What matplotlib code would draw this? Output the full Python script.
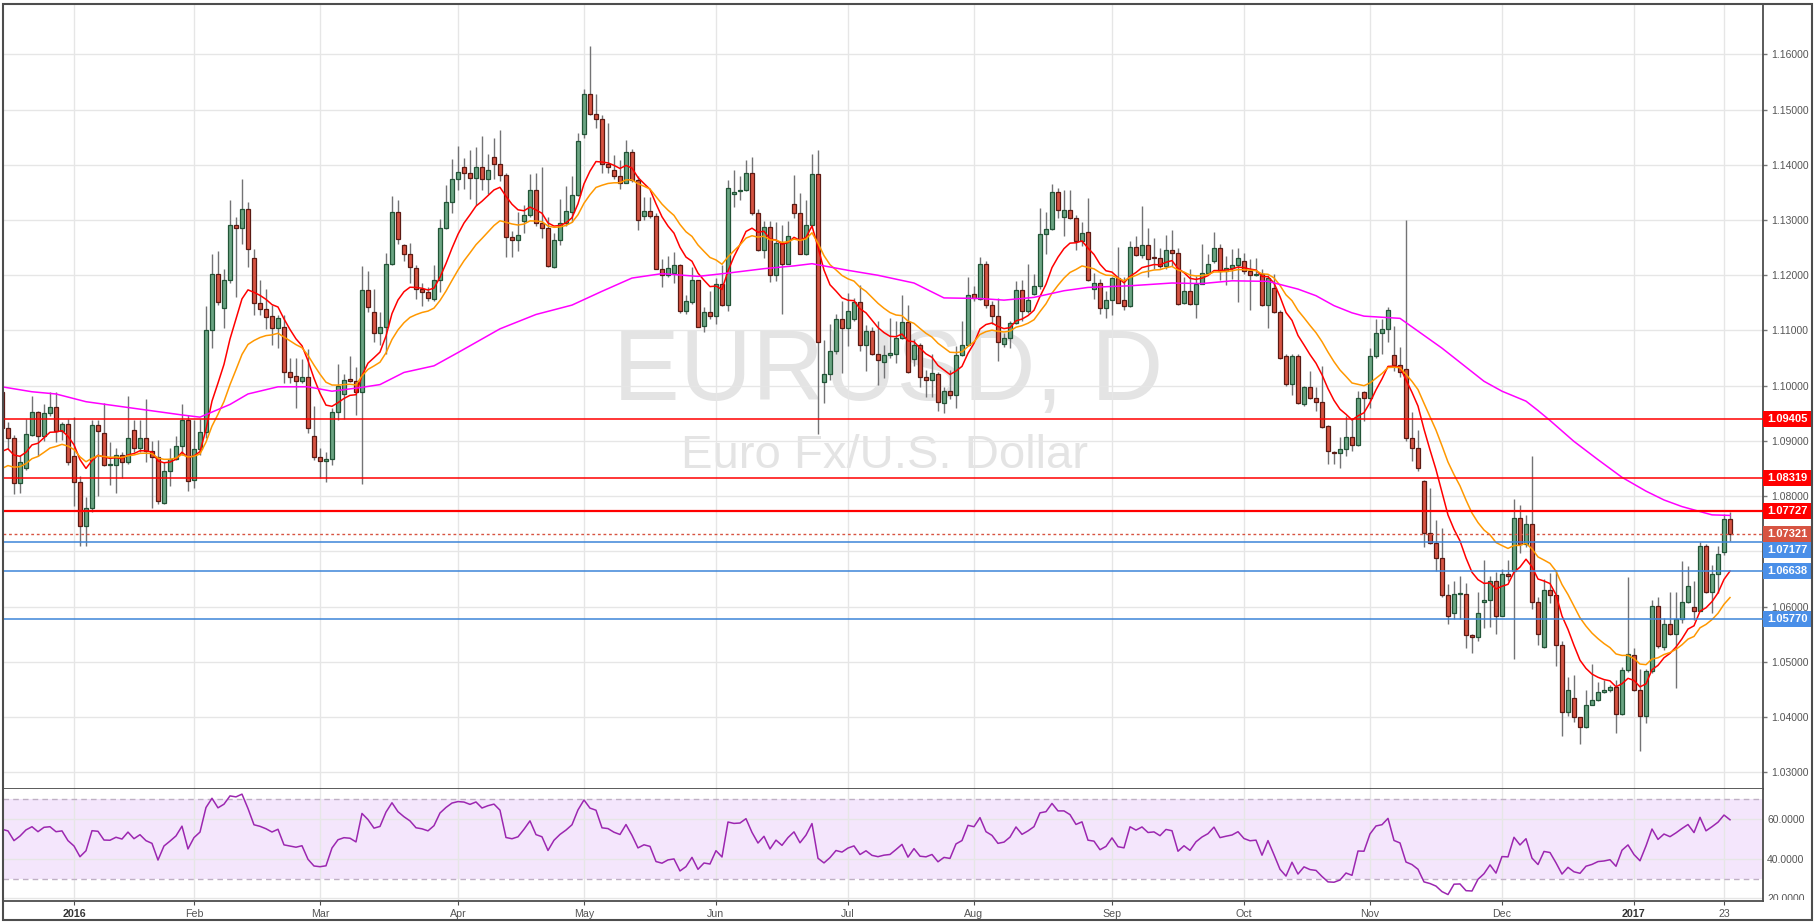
import numpy as np
import pandas as pd
import matplotlib
matplotlib.use("Agg")
import matplotlib.pyplot as plt
from matplotlib.patches import Rectangle
from matplotlib.ticker import FuncFormatter
import matplotlib.transforms as mtransforms

plt.rcParams['font.family'] = ['Liberation Sans', 'DejaVu Sans']

# EURUSD daily, 16 Dec 2015 .. 24 Jan 2017
opens = [
    1.0989, 1.0923, 1.0906, 1.0824, 1.0851, 1.0911, 1.0953, 1.0909, 1.0950, 1.0961,
    1.0918, 1.0930, 1.0872, 1.0825, 1.0745, 1.0778, 1.0928, 1.0914, 1.0857, 1.0856,
    1.0874, 1.0861, 1.0919, 1.0888, 1.0905, 1.0881, 1.0870, 1.0788, 1.0846, 1.0867,
    1.0890, 1.0937, 1.0830, 1.0885, 1.0916, 1.1101, 1.1203, 1.1141, 1.1191, 1.1291,
    1.1286, 1.1320, 1.1231, 1.1149, 1.1139, 1.1126, 1.1104, 1.1107, 1.1024, 1.1018,
    1.1008, 1.1016, 1.0909, 1.0870, 1.0864, 1.0868, 1.0953, 1.0985, 1.1012, 1.1008,
    1.0989, 1.1174, 1.1134, 1.1095, 1.1107, 1.1220, 1.1314, 1.1254, 1.1238, 1.1214,
    1.1176, 1.1170, 1.1157, 1.1192, 1.1285, 1.1333, 1.1374, 1.1397, 1.1385, 1.1377,
    1.1396, 1.1374, 1.1414, 1.1401, 1.1381, 1.1270, 1.1264, 1.1299, 1.1309, 1.1354,
    1.1294, 1.1285, 1.1215, 1.1264, 1.1294, 1.1315, 1.1346, 1.1456, 1.1528, 1.1493,
    1.1484, 1.1401, 1.1390, 1.1379, 1.1368, 1.1424, 1.1372, 1.1307, 1.1317, 1.1308,
    1.1212, 1.1200, 1.1205, 1.1218, 1.1136, 1.1152, 1.1191, 1.1109, 1.1134, 1.1127,
    1.1185, 1.1146, 1.1348, 1.1352, 1.1354, 1.1386, 1.1312, 1.1245, 1.1288, 1.1201,
    1.1258, 1.1221, 1.1330, 1.1312, 1.1239, 1.1292, 1.1383, 1.1007, 1.1022, 1.1063,
    1.1120, 1.1104, 1.1121, 1.1151, 1.1073, 1.1099, 1.1058, 1.1043, 1.1055, 1.1058,
    1.1086, 1.1115, 1.1048, 1.1073, 1.1016, 1.1011, 1.1022, 1.0968, 1.0991, 1.0984,
    1.1055, 1.1073, 1.1166, 1.1157, 1.1220, 1.1147, 1.1126, 1.1075, 1.1086, 1.1113,
    1.1173, 1.1135, 1.1166, 1.1180, 1.1274, 1.1283, 1.1350, 1.1306, 1.1318, 1.1303,
    1.1262, 1.1278, 1.1175, 1.1186, 1.1140, 1.1155, 1.1195, 1.1155, 1.1144, 1.1252,
    1.1236, 1.1254, 1.1233, 1.1232, 1.1216, 1.1245, 1.1240, 1.1149, 1.1171, 1.1148,
    1.1184, 1.1205, 1.1225, 1.1250, 1.1208, 1.1214, 1.1219, 1.1226, 1.1208, 1.1200,
    1.1202, 1.1146, 1.1177, 1.1134, 1.1054, 1.1003, 1.1054, 1.0966, 1.0997, 1.0977,
    1.0971, 1.0927, 1.0880, 1.0878, 1.0885, 1.0907, 1.0892, 1.0989, 1.0977, 1.1053,
    1.1095, 1.1102, 1.1055, 1.1037, 1.1030, 1.0906, 1.0888, 1.0828, 1.0733, 1.0715,
    1.0687, 1.0621, 1.0589, 1.0623, 1.0623, 1.0549, 1.0545, 1.0609, 1.0611, 1.0647,
    1.0583, 1.0658, 1.0664, 1.0761, 1.0713, 1.0750, 1.0609, 1.0527, 1.0630, 1.0621,
    1.0531, 1.0409, 1.0435, 1.0399, 1.0382, 1.0421, 1.0431, 1.0445, 1.0449, 1.0455,
    1.0406, 1.0485, 1.0513, 1.0449, 1.0402, 1.0484, 1.0601, 1.0527, 1.0569, 1.0551,
    1.0578, 1.0609, 1.0599, 1.0592, 1.0710, 1.0626, 1.0659, 1.0699, 1.0759,
]
highs = [
    1.1005, 1.0934, 1.0910, 1.0875, 1.0940, 1.0982, 1.0955, 1.0966, 1.0989, 1.0989,
    1.0935, 1.0940, 1.0943, 1.0837, 1.0798, 1.0937, 1.0937, 1.0968, 1.0898, 1.0888,
    1.0880, 1.0982, 1.0937, 1.0937, 1.0975, 1.0899, 1.0901, 1.0862, 1.0888, 1.0908,
    1.0966, 1.0947, 1.0937, 1.0940, 1.1144, 1.1238, 1.1244, 1.1212, 1.1336, 1.1306,
    1.1375, 1.1333, 1.1247, 1.1192, 1.1176, 1.1147, 1.1128, 1.1128, 1.1050, 1.1050,
    1.1049, 1.1066, 1.0963, 1.0888, 1.0880, 1.0959, 1.1040, 1.1021, 1.1053, 1.1034,
    1.1217, 1.1207, 1.1176, 1.1134, 1.1241, 1.1343, 1.1336, 1.1257, 1.1258, 1.1218,
    1.1186, 1.1179, 1.1218, 1.1302, 1.1363, 1.1410, 1.1435, 1.1412, 1.1427, 1.1432,
    1.1452, 1.1419, 1.1448, 1.1463, 1.1386, 1.1280, 1.1315, 1.1327, 1.1383, 1.1386,
    1.1397, 1.1306, 1.1276, 1.1338, 1.1361, 1.1380, 1.1458, 1.1537, 1.1615, 1.1529,
    1.1491, 1.1476, 1.1418, 1.1408, 1.1445, 1.1428, 1.1380, 1.1342, 1.1342, 1.1313,
    1.1230, 1.1235, 1.1242, 1.1220, 1.1165, 1.1215, 1.1192, 1.1142, 1.1171, 1.1195,
    1.1218, 1.1372, 1.1390, 1.1380, 1.1408, 1.1414, 1.1320, 1.1298, 1.1298, 1.1296,
    1.1292, 1.1298, 1.1381, 1.1349, 1.1336, 1.1419, 1.1427, 1.1082, 1.1111, 1.1129,
    1.1153, 1.1168, 1.1159, 1.1183, 1.1110, 1.1106, 1.1117, 1.1073, 1.1123, 1.1117,
    1.1164, 1.1147, 1.1084, 1.1078, 1.1028, 1.1058, 1.1025, 1.0997, 1.1029, 1.1072,
    1.1117, 1.1197, 1.1180, 1.1233, 1.1226, 1.1154, 1.1159, 1.1096, 1.1117, 1.1189,
    1.1191, 1.1220, 1.1202, 1.1321, 1.1314, 1.1365, 1.1358, 1.1354, 1.1354, 1.1309,
    1.1297, 1.1340, 1.1205, 1.1193, 1.1172, 1.1197, 1.1251, 1.1196, 1.1262, 1.1271,
    1.1326, 1.1285, 1.1267, 1.1250, 1.1273, 1.1282, 1.1249, 1.1196, 1.1211, 1.1199,
    1.1257, 1.1239, 1.1279, 1.1256, 1.1235, 1.1247, 1.1250, 1.1241, 1.1229, 1.1231,
    1.1211, 1.1201, 1.1203, 1.1138, 1.1057, 1.1057, 1.1058, 1.1000, 1.1026, 1.0997,
    1.1036, 1.0929, 1.0882, 1.0907, 1.0945, 1.0942, 1.0991, 1.0991, 1.1069, 1.1120,
    1.1120, 1.1142, 1.1108, 1.1070, 1.1300, 1.0952, 1.0920, 1.0830, 1.0815, 1.0757,
    1.0743, 1.0641, 1.0647, 1.0656, 1.0642, 1.0550, 1.0626, 1.0684, 1.0655, 1.0662,
    1.0668, 1.0685, 1.0795, 1.0783, 1.0766, 1.0872, 1.0618, 1.0649, 1.0661, 1.0667,
    1.0537, 1.0472, 1.0476, 1.0399, 1.0449, 1.0496, 1.0464, 1.0466, 1.0458, 1.0467,
    1.0490, 1.0653, 1.0525, 1.0487, 1.0487, 1.0612, 1.0618, 1.0580, 1.0626, 1.0626,
    1.0682, 1.0674, 1.0647, 1.0717, 1.0713, 1.0676, 1.0710, 1.0768, 1.0772,
]
lows = [
    1.0915, 1.0885, 1.0804, 1.0805, 1.0848, 1.0908, 1.0872, 1.0900, 1.0945, 1.0898,
    1.0901, 1.0856, 1.0782, 1.0710, 1.0710, 1.0771, 1.0801, 1.0854, 1.0820, 1.0805,
    1.0833, 1.0858, 1.0879, 1.0880, 1.0862, 1.0778, 1.0785, 1.0785, 1.0818, 1.0866,
    1.0875, 1.0809, 1.0814, 1.0875, 1.0905, 1.1069, 1.1147, 1.1105, 1.1186, 1.1160,
    1.1257, 1.1215, 1.1128, 1.1128, 1.1102, 1.1073, 1.1069, 1.1005, 1.1005, 1.0959,
    1.1005, 1.0914, 1.0866, 1.0833, 1.0825, 1.0856, 1.0937, 1.0940, 1.1006, 1.0947,
    1.0822, 1.1134, 1.1079, 1.1073, 1.1057, 1.1218, 1.1257, 1.1225, 1.1186, 1.1157,
    1.1144, 1.1154, 1.1154, 1.1170, 1.1283, 1.1312, 1.1354, 1.1357, 1.1338, 1.1328,
    1.1354, 1.1348, 1.1374, 1.1370, 1.1234, 1.1234, 1.1244, 1.1276, 1.1306, 1.1289,
    1.1267, 1.1215, 1.1213, 1.1255, 1.1289, 1.1296, 1.1344, 1.1448, 1.1491, 1.1466,
    1.1386, 1.1386, 1.1374, 1.1357, 1.1368, 1.1369, 1.1282, 1.1301, 1.1304, 1.1211,
    1.1179, 1.1196, 1.1186, 1.1132, 1.1129, 1.1148, 1.1107, 1.1098, 1.1121, 1.1112,
    1.1144, 1.1136, 1.1324, 1.1336, 1.1353, 1.1310, 1.1244, 1.1232, 1.1188, 1.1190,
    1.1130, 1.1220, 1.1304, 1.1238, 1.1236, 1.1289, 1.0912, 1.0969, 1.1011, 1.1057,
    1.1023, 1.1072, 1.1117, 1.1063, 1.1026, 1.1056, 1.1002, 1.1014, 1.1050, 1.1041,
    1.1084, 1.1023, 1.1035, 1.0998, 1.0980, 1.0980, 1.0954, 1.0951, 1.0976, 1.0960,
    1.1054, 1.1072, 1.1154, 1.1156, 1.1140, 1.1111, 1.1044, 1.1070, 1.1069, 1.1111,
    1.1117, 1.1132, 1.1164, 1.1175, 1.1239, 1.1282, 1.1303, 1.1271, 1.1302, 1.1245,
    1.1253, 1.1190, 1.1157, 1.1129, 1.1122, 1.1128, 1.1149, 1.1138, 1.1142, 1.1235,
    1.1232, 1.1197, 1.1211, 1.1214, 1.1211, 1.1217, 1.1147, 1.1148, 1.1147, 1.1122,
    1.1184, 1.1203, 1.1223, 1.1191, 1.1182, 1.1193, 1.1152, 1.1203, 1.1138, 1.1199,
    1.1145, 1.1104, 1.1132, 1.1048, 1.0999, 1.0983, 1.0966, 1.0964, 1.0975, 1.0954,
    1.0924, 1.0859, 1.0859, 1.0850, 1.0873, 1.0882, 1.0891, 1.0936, 1.0959, 1.1050,
    1.1058, 1.1080, 1.1027, 1.1015, 1.0900, 1.0863, 1.0846, 1.0707, 1.0713, 1.0664,
    1.0618, 1.0568, 1.0578, 1.0578, 1.0525, 1.0516, 1.0538, 1.0561, 1.0562, 1.0551,
    1.0582, 1.0647, 1.0504, 1.0697, 1.0708, 1.0595, 1.0531, 1.0524, 1.0606, 1.0493,
    1.0366, 1.0401, 1.0390, 1.0351, 1.0380, 1.0421, 1.0428, 1.0443, 1.0446, 1.0371,
    1.0404, 1.0482, 1.0447, 1.0339, 1.0389, 1.0480, 1.0525, 1.0522, 1.0549, 1.0452,
    1.0570, 1.0607, 1.0576, 1.0591, 1.0625, 1.0588, 1.0624, 1.0694, 1.0718,
]
closes = [
    1.0924, 1.0906, 1.0824, 1.0862, 1.0912, 1.0953, 1.0909, 1.0950, 1.0961, 1.0918,
    1.0930, 1.0861, 1.0825, 1.0745, 1.0778, 1.0928, 1.0918, 1.0856, 1.0858, 1.0874,
    1.0861, 1.0905, 1.0888, 1.0905, 1.0881, 1.0870, 1.0791, 1.0846, 1.0867, 1.0890,
    1.0937, 1.0827, 1.0885, 1.0916, 1.1101, 1.1203, 1.1152, 1.1191, 1.1291, 1.1286,
    1.1320, 1.1247, 1.1149, 1.1139, 1.1124, 1.1104, 1.1123, 1.1024, 1.1016, 1.1008,
    1.1016, 1.0924, 1.0870, 1.0864, 1.0868, 1.0953, 1.0999, 1.1011, 1.1008, 1.0989,
    1.1174, 1.1142, 1.1095, 1.1107, 1.1220, 1.1314, 1.1266, 1.1238, 1.1215, 1.1176,
    1.1170, 1.1159, 1.1192, 1.1285, 1.1333, 1.1374, 1.1388, 1.1386, 1.1377, 1.1396,
    1.1374, 1.1390, 1.1401, 1.1381, 1.1270, 1.1264, 1.1273, 1.1309, 1.1354, 1.1295,
    1.1285, 1.1216, 1.1264, 1.1294, 1.1317, 1.1346, 1.1443, 1.1528, 1.1493, 1.1484,
    1.1401, 1.1397, 1.1379, 1.1368, 1.1424, 1.1372, 1.1301, 1.1317, 1.1308, 1.1212,
    1.1200, 1.1214, 1.1218, 1.1136, 1.1153, 1.1191, 1.1107, 1.1134, 1.1127, 1.1185,
    1.1146, 1.1359, 1.1351, 1.1354, 1.1386, 1.1312, 1.1245, 1.1288, 1.1201, 1.1258,
    1.1221, 1.1272, 1.1312, 1.1239, 1.1292, 1.1383, 1.1079, 1.1022, 1.1063, 1.1120,
    1.1104, 1.1135, 1.1151, 1.1073, 1.1099, 1.1058, 1.1046, 1.1055, 1.1059, 1.1086,
    1.1115, 1.1025, 1.1073, 1.1016, 1.1011, 1.1023, 1.0970, 1.0991, 1.0984, 1.1055,
    1.1073, 1.1165, 1.1158, 1.1220, 1.1147, 1.1126, 1.1079, 1.1086, 1.1113, 1.1173,
    1.1135, 1.1155, 1.1180, 1.1274, 1.1283, 1.1350, 1.1318, 1.1318, 1.1303, 1.1262,
    1.1277, 1.1191, 1.1186, 1.1140, 1.1155, 1.1195, 1.1150, 1.1144, 1.1252, 1.1236,
    1.1254, 1.1229, 1.1232, 1.1216, 1.1245, 1.1240, 1.1148, 1.1171, 1.1148, 1.1184,
    1.1205, 1.1220, 1.1250, 1.1208, 1.1214, 1.1219, 1.1232, 1.1208, 1.1200, 1.1202,
    1.1146, 1.1195, 1.1134, 1.1051, 1.1003, 1.1054, 1.0968, 1.0997, 1.0977, 1.0971,
    1.0926, 1.0881, 1.0878, 1.0885, 1.0907, 1.0892, 1.0978, 1.0977, 1.1053, 1.1095,
    1.1102, 1.1137, 1.1038, 1.1025, 1.0906, 1.0887, 1.0851, 1.0733, 1.0715, 1.0687,
    1.0621, 1.0582, 1.0623, 1.0624, 1.0549, 1.0545, 1.0589, 1.0611, 1.0647, 1.0583,
    1.0658, 1.0656, 1.0761, 1.0713, 1.0750, 1.0609, 1.0551, 1.0630, 1.0621, 1.0531,
    1.0409, 1.0449, 1.0399, 1.0382, 1.0421, 1.0431, 1.0446, 1.0449, 1.0455, 1.0406,
    1.0485, 1.0514, 1.0449, 1.0402, 1.0484, 1.0601, 1.0529, 1.0569, 1.0551, 1.0578,
    1.0609, 1.0638, 1.0592, 1.0710, 1.0626, 1.0659, 1.0696, 1.0759, 1.0732,
]

# long moving average (magenta), read at points: bar number, price
slow_ma_bar = [0, 5, 9, 14, 22, 30, 33, 38, 41, 46, 51, 55, 60, 63, 67, 72, 76, 83, 89, 95,
               100, 105, 110, 116, 121, 127, 132, 135, 141, 146, 152, 157, 163, 167, 172,
               177, 181, 188, 195, 200, 205, 211, 216, 219, 222, 225, 227, 233, 240, 247,
               250, 254, 256, 258, 262, 266, 270, 274, 277, 280, 283, 285, 288]
slow_ma_val = [1.0998, 1.0989, 1.0985, 1.0971, 1.0959, 1.0947, 1.0943, 1.0966, 1.0985, 1.0998,
               1.0998, 1.0990, 1.0997, 1.1002, 1.1024, 1.1036, 1.1060, 1.1103, 1.1129, 1.1146,
               1.1171, 1.1195, 1.1203, 1.1198, 1.1204, 1.1212, 1.1217, 1.1221, 1.1209, 1.1200,
               1.1186, 1.1159, 1.1158, 1.1155, 1.1160, 1.1172, 1.1178, 1.1181, 1.1186, 1.1185,
               1.1190, 1.1189, 1.1175, 1.1163, 1.1145, 1.1132, 1.1126, 1.1122, 1.1068, 1.1008,
               1.0990, 1.0972, 1.0955, 1.0937, 1.0899, 1.0866, 1.0834, 1.0809, 1.0793, 1.0781,
               1.0772, 1.0766, 1.0765]
# where the fast/mid averages stand at the first bar (history before the chart)
fast_ma_start = 1.0881
mid_ma_start = 1.0850
# RSI values of the first bars
rsi_lead = [54.8, 54.0, 49.1, 51.4, 54.5, 56.1, 53.6, 55.8, 56.1, 53.6, 54.0, 49.1,
            46.4, 41.0, 44.0, 54.1, 53.8, 49.4, 49.3, 50.8, 49.9, 53.4]

resistance = [1.09405, 1.08319, 1.07727]
support = [1.07177, 1.06638, 1.05770]
last_price = 1.07321

price_grid = [1.03, 1.04, 1.05, 1.06, 1.07, 1.08, 1.09, 1.10, 1.11, 1.12, 1.13, 1.14, 1.15, 1.16]
rsi_grid = [20, 40, 60]

dates = pd.bdate_range("2015-12-16", "2017-01-24", freq="C", holidays=["2016-01-01"])
o = np.array(opens); h = np.array(highs); l = np.array(lows); c = np.array(closes)
x = np.arange(len(c))


def ema(values, span, start):
    a = 2 / (span + 1)
    out = [start]
    for v in values[1:]:
        out.append(out[-1] + a * (v - out[-1]))
    return np.array(out)


ema_fast = ema(c, 10, fast_ma_start)
ema_mid = ema(c, 20, mid_ma_start)

s = pd.Series(c)
d = s.diff()
g = d.clip(lower=0).ewm(alpha=1/14, min_periods=5).mean()
ls = (-d.clip(upper=0)).ewm(alpha=1/14, min_periods=5).mean()
rsi = (100 - 100 / (1 + g / ls)).to_numpy()
rsi[:len(rsi_lead)] = rsi_lead

# month ticks: first bar of each month
tick_pos, tick_lab = [], []
for j in range(1, len(dates)):
    if dates[j].month != dates[j - 1].month:
        tick_pos.append(j)
        tick_lab.append(str(dates[j].year) if dates[j].month == 1 else dates[j].strftime("%b"))
tick_pos.append(int(np.where(dates == pd.Timestamp("2017-01-23"))[0][0]))
tick_lab.append("23")

W, H = 1817, 923
fig = plt.figure(figsize=(W / 100, H / 100), dpi=100)
fig.patch.set_facecolor("white")

L, R = 2.7, 1763
ax = fig.add_axes([L / W, (H - 789) / H, (R - L) / W, (789 - 4.3) / H])
ax2 = fig.add_axes([L / W, (H - 901) / H, (R - L) / W, (901 - 789) / H], sharex=ax)

dark = "#4d4d4d"
grid_c = "#e6e6e6"

# watermark
ax.text(888 / W, (H - 400) / H, "EURUSD, D", transform=fig.transFigure, fontsize=72,
        color="#e4e4e4", ha="center", va="baseline", zorder=0.3)
ax.text(884 / W, (H - 468) / H, "Euro Fx/U.S. Dollar", transform=fig.transFigure, fontsize=34,
        color="#e4e4e4", ha="center", va="baseline", zorder=0.3)

# candles
up = c >= o
lo = np.minimum(o, c)
bh = np.maximum(np.abs(c - o), 0.00006)
ax.vlines(x, l, h, color="#737375", lw=1, zorder=2)
ax.bar(x[up], bh[up], 0.72, lo[up], color="#6ba583", edgecolor="#225437", lw=0.9, zorder=3)
ax.bar(x[~up], bh[~up], 0.72, lo[~up], color="#d75442", edgecolor="#5b1a13", lw=0.9, zorder=3)

ax.plot(x, ema_fast, color="#ff0000", lw=1.1, zorder=4)
ax.plot(x, ema_mid, color="#ff9800", lw=1.1, zorder=4)
ax.plot(slow_ma_bar, slow_ma_val, color="#ff00ff", lw=1.1, zorder=4)

# levels
for lv in resistance:
    ax.axhline(lv, color="#ff0000", lw=1.6 if lv == resistance[-1] else 1.1, zorder=5)
for lv in support:
    ax.axhline(lv, color="#3d85d8", lw=1.1, zorder=5)
ax.axhline(last_price, color="#d75442", lw=1, ls=(0, (2, 2)), zorder=5)

# right-axis labels, pushed apart when they overlap
box_h = 16 / 5520
labels = [(lv, "#ff0000") for lv in resistance] + [(last_price, "#d75442")] + [(lv, "#4a8fe8") for lv in support]
labels.sort(key=lambda t: -t[0])
trans = mtransforms.blended_transform_factory(ax.transAxes, ax.transData)
bw = (1812 - R) / (R - L)
prev = None
for lv, col in labels:
    pos = lv
    if prev is not None and prev - pos < box_h:
        pos = prev - box_h
    prev = pos
    ax.add_patch(Rectangle((1.0, pos - box_h / 2), bw, box_h, transform=trans,
                           facecolor=col, edgecolor="none", clip_on=False, zorder=6))
    ax.text(1.0 + bw / 2, pos, f"{lv:.5f}", transform=trans, color="white", fontsize=8,
            fontweight="bold", ha="center", va="center", clip_on=False, zorder=7)

ax.set_ylim(1.02694, 1.16909)
ax.set_xlim(0.12, 293.5)
ax.set_yticks(price_grid)
ax.yaxis.set_major_formatter(FuncFormatter(lambda v, p: "" if abs(v - 1.07) < 1e-6 else f"{v:.5f}"))
ax.yaxis.tick_right()
ax.tick_params(axis="y", length=3, width=1, color="#777777", labelsize=7.5, labelcolor="#555555", pad=3)
ax.set_xticks(tick_pos)
ax.tick_params(axis="x", length=0, labelbottom=False)
ax.grid(True, color=grid_c, lw=1)
ax.set_axisbelow(True)
for sp in ["top", "left"]:
    ax.spines[sp].set_visible(False)
for sp in ["right", "bottom"]:
    ax.spines[sp].set_color(dark)
    ax.spines[sp].set_linewidth(1.3)

# RSI panel
ax2.axhspan(30, 70, color="#f4e6fc", zorder=0.2, lw=0)
ax2.axhline(70, color="#bfb0c4", lw=1, ls=(0, (4, 3)), zorder=1.5)
ax2.axhline(30, color="#bfb0c4", lw=1, ls=(0, (4, 3)), zorder=1.5)
ax2.plot(x, rsi, color="#9c27b0", lw=1.1, zorder=3)
ax2.set_ylim(18.7, 75.1)
ax2.set_yticks(rsi_grid)
ax2.yaxis.set_major_formatter(FuncFormatter(lambda v, p: f"{v:.4f}"))
ax2.yaxis.tick_right()
ax2.tick_params(axis="y", length=0, labelsize=7.5, labelcolor="#555555", pad=3)
ax2.set_xticks(tick_pos)
ax2.set_xticklabels(tick_lab)
ax2.tick_params(axis="x", length=3, color=dark, labelsize=7.7, labelcolor="#555555", pad=3)
for t in ax2.get_xticklabels():
    if t.get_text() in ("2016", "2017"):
        t.set_fontweight("bold")
        t.set_color("#333333")
ax2.grid(True, color=grid_c, lw=1)
ax2.set_axisbelow(True)
for sp in ["top", "left"]:
    ax2.spines[sp].set_visible(False)
for sp in ["right", "bottom"]:
    ax2.spines[sp].set_color(dark)
    ax2.spines[sp].set_linewidth(1.3)

# hide lower part of the 20.0000 label, as the axis line cuts it
fig.patches.append(Rectangle((R / W + 0.0004, 3.5 / H), (1811 - R) / W, (H - 899.5 - 3.5) / H,
                             transform=fig.transFigure, facecolor="white", edgecolor="none", zorder=5))
# outer frame
fig.patches.append(Rectangle((L / W, 3 / H), (1812 - L) / W, (920 - 4.3) / H, transform=fig.transFigure,
                             fill=False, edgecolor=dark, lw=1.5, zorder=6))

fig.savefig("out.png", dpi=100, facecolor="white")
